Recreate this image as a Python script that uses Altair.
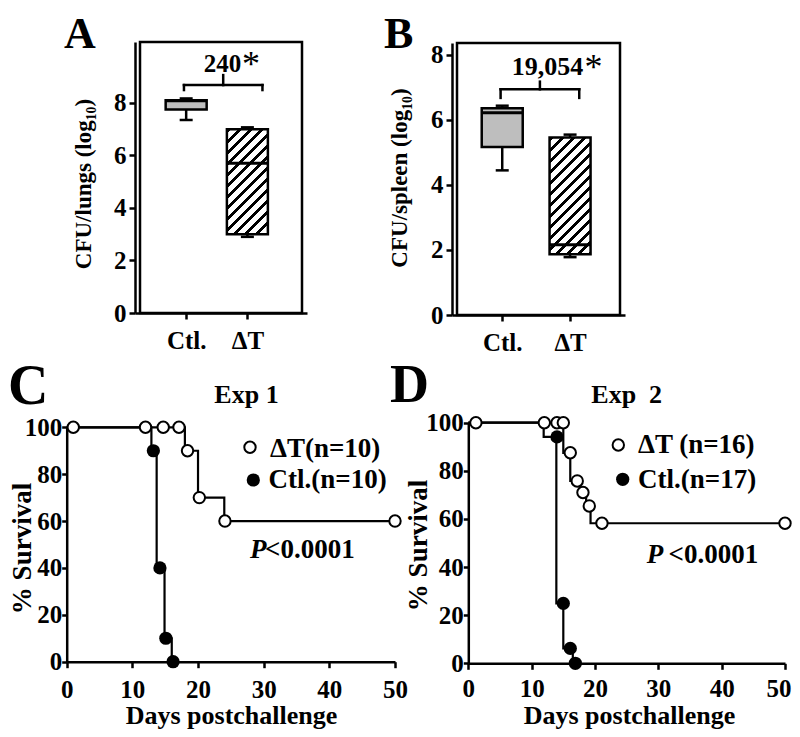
import altair as alt
import pandas as pd

FONT = "Liberation Serif"
W, H = 784, 721

# ---------------- data ----------------
groups = ["Ctl.", "ΔT"]
group_pos = [1, 2]

lung_min = [7.35, 2.90]
lung_q1 = [7.75, 3.00]
lung_median = [8.08, 5.70]
lung_q3 = [8.10, 7.00]
lung_max = [8.17, 7.07]

spleen_min = [4.45, 1.78]
spleen_q1 = [5.17, 1.87]
spleen_median = [6.22, 2.16]
spleen_q3 = [6.36, 5.46]
spleen_max = [6.44, 5.55]

box_ticks = [0, 2, 4, 6, 8]

# Exp 1 (panel C)
e1_dt_days = [1, 12, 14.7, 17.1, 18.4, 20.2, 24.1, 50]
e1_dt_surv = [100, 100, 100, 100, 90, 70, 60, 60]
e1_dt_step_days = [0, 18, 20, 24, 50]
e1_dt_step_surv = [100, 90, 70, 60, 60]
e1_ctl_days = [13.2, 14.2, 15.1, 16.2]
e1_ctl_surv = [90, 40, 10, 0]
e1_ctl_step_days = [0, 12.9, 13.7, 14.9, 16.0, 16.2]
e1_ctl_step_surv = [100, 90, 40, 10, 0, 0]

# Exp 2 (panel D)
e2_dt_days = [1.2, 12, 14, 15, 16.1, 17.2, 18.1, 19.1, 21.1, 50]
e2_dt_surv = [100, 100, 100, 100, 87.5, 75.8, 71, 65.4, 58.2, 58.2]
e2_dt_step_days = [0, 15, 16.1, 17.6, 18.6, 19.3, 50]
e2_dt_step_surv = [100, 87.5, 75.8, 71, 65.4, 58.2, 58.2]
e2_ctl_days = [14, 15, 16.1, 16.9]
e2_ctl_surv = [94.1, 24.9, 6.2, 0]
e2_ctl_step_days = [0, 11.9, 13.9, 15, 16.5, 16.9]
e2_ctl_step_surv = [100, 94.1, 24.9, 6.2, 0, 0]

day_ticks = [0, 10, 20, 30, 40, 50]
surv_ticks = [0, 20, 40, 60, 80, 100]

# fold-change brackets (data units of each panel): left, right, level, prong end, tip
lung_bracket = [0.964, 2.246, 8.68, 8.49, 9.06]
spleen_bracket = [0.976, 2.135, 6.945, 6.68, 7.18]

# ---------------- helpers ----------------
label_expr = " : ".join(
    [f"datum.value == {p} ? '{g}'" for p, g in zip(group_pos[:-1], groups[:-1])] + [f"'{groups[-1]}'"]
)


def hatch(w, h, period=7.8, black=2.8):
    s = (w + h) / (w * w + h * h)
    span = (w + h) / 2 ** 0.5
    stops = []
    i = 0
    while i * period / span < 1:
        a = i * period / span
        b = min((i * period + black) / span, 1.0)
        stops += [
            alt.GradientStop(color="white", offset=a),
            alt.GradientStop(color="black", offset=a),
            alt.GradientStop(color="black", offset=b),
            alt.GradientStop(color="white", offset=b),
        ]
        i += 1
    return alt.LinearGradient(gradient="linear", stops=stops, x1=0, y1=0, x2=w * s, y2=h * s)


def box_panel(mins, q1s, meds, q3s, maxs, xdom, xrng, ydom, yrng, ytitle, ttx, tty, bracket,
              box_w=41):
    df = pd.DataFrame({"group": groups, "pos": group_pos, "lo": mins, "q1": q1s,
                       "med": meds, "q3": q3s, "hi": maxs})
    xs = alt.Scale(domain=xdom, range=xrng, nice=False, zero=False)
    ys = alt.Scale(domain=ydom, range=yrng, nice=False, zero=False)
    ppu = (yrng[0] - yrng[1]) / (ydom[1] - ydom[0])
    base = alt.Chart(df)
    X = alt.X("pos:Q", scale=xs)

    # frame first: it carries the panel's axes
    frame_df = pd.DataFrame({"x0": [xdom[0]], "x1": [xdom[1]], "y0": [ydom[0]], "y1": [ydom[1]]})
    frame = alt.Chart(frame_df).mark_rect(fillOpacity=0, stroke="black", strokeWidth=2.5).encode(
        x=alt.X("x0:Q", scale=xs, axis=alt.Axis(
            orient="bottom", offset=yrng[0] - H, values=group_pos, labelExpr=label_expr,
            title=None, tickSize=6, labelPadding=9)),
        x2="x1:Q",
        y=alt.Y("y0:Q", scale=ys, axis=alt.Axis(
            orient="left", offset=-xrng[0], values=box_ticks, format="d", tickSize=6,
            labelPadding=3, title=ytitle, titleFontSize=23, titleAngle=270,
            titleBaseline="bottom", titleAlign="center", titleX=ttx, titleY=tty)),
        y2="y1:Q")

    whisk_hi = base.mark_rule(color="black", strokeWidth=2.5).encode(
        x=X, y=alt.Y("q3:Q", scale=ys), y2="hi:Q")
    whisk_lo = base.mark_rule(color="black", strokeWidth=2.5).encode(
        x=X, y=alt.Y("lo:Q", scale=ys), y2="q1:Q")
    caps = base.transform_fold(["lo", "hi"], as_=["k", "v"]).mark_tick(
        orient="horizontal", size=13, thickness=2.5, color="black", opacity=1).encode(
        x=X, y=alt.Y("v:Q", scale=ys))
    box_ctl = base.transform_filter(alt.datum.pos == group_pos[0]).mark_bar(
        size=box_w, fill="#bebebe", stroke="black", strokeWidth=2.5, opacity=1).encode(
        x=X, y=alt.Y("q1:Q", scale=ys), y2="q3:Q")
    h_dt = (q3s[1] - q1s[1]) * ppu
    box_dt = base.transform_filter(alt.datum.pos == group_pos[1]).mark_bar(
        size=box_w, fill=hatch(box_w, h_dt), stroke="black", strokeWidth=2.5, opacity=1).encode(
        x=X, y=alt.Y("q1:Q", scale=ys), y2="q3:Q")
    med = base.mark_tick(orient="horizontal", size=box_w, thickness=3, color="black", opacity=1).encode(
        x=X, y=alt.Y("med:Q", scale=ys))

    xl, xr, lev, prong, tip = bracket
    br_df = pd.DataFrame({
        "x": [xl, xl, xr, (xl + xr) / 2],
        "x2": [xl, xr, xr, (xl + xr) / 2],
        "y": [prong, lev, lev, lev],
        "y2": [lev, lev, prong, tip],
    })
    br = alt.Chart(br_df).mark_rule(color="black", strokeWidth=2.5, strokeCap="square").encode(
        x=alt.X("x:Q", scale=xs), x2="x2:Q",
        y=alt.Y("y:Q", scale=ys), y2="y2:Q")

    return alt.layer(frame, whisk_hi, whisk_lo, box_ctl, box_dt, med, caps, br)


def km_panel(dt_d, dt_s, dt_sd, dt_ss, c_d, c_s, c_sd, c_ss, xrng, yrng,
             ytx, yty, xtx, xty, xlabpad, flush_last=False):
    xs = alt.Scale(domain=[0, 50], range=xrng, nice=False, zero=False)
    ys = alt.Scale(domain=[0, 100], range=yrng, nice=False, zero=False)
    steps = pd.DataFrame({
        "series": ["dt"] * len(dt_sd) + ["ctl"] * len(c_sd),
        "day": dt_sd + c_sd,
        "surv": dt_ss + c_ss,
    })
    extra = {}
    if flush_last:
        test = f"datum.value == {day_ticks[-1]}"
        extra = dict(
            labelAlign={"condition": {"test": test, "value": "right"}, "value": "center"},
            labelOffset={"condition": {"test": test, "value": 6}, "value": 0},
        )
    lines = alt.Chart(steps).mark_line(interpolate="step-after", color="black", strokeWidth=2.2).encode(
        x=alt.X("day:Q", scale=xs, axis=alt.Axis(
            orient="bottom", offset=yrng[0] - H, values=day_ticks, tickSize=6,
            labelPadding=xlabpad, title="Days postchallenge", titleFontSize=26,
            titleBaseline="top", titleAlign="center", titleX=xtx, titleY=xty, **extra)),
        y=alt.Y("surv:Q", scale=ys, axis=alt.Axis(
            orient="left", offset=-xrng[0], values=surv_ticks, tickSize=5, labelPadding=0,
            title="% Survival", titleFontSize=27, titleAngle=270, titleBaseline="bottom",
            titleAlign="center", titleX=ytx, titleY=yty)),
        detail="series:N")
    open_pts = alt.Chart(pd.DataFrame({"day": dt_d, "surv": dt_s})).mark_point(
        shape="circle", size=130, filled=True, fill="white", stroke="black",
        strokeWidth=2, opacity=1).encode(
        x=alt.X("day:Q", scale=xs), y=alt.Y("surv:Q", scale=ys))
    filled_pts = alt.Chart(pd.DataFrame({"day": c_d, "surv": c_s})).mark_point(
        shape="circle", size=175, filled=True, color="black", opacity=1).encode(
        x=alt.X("day:Q", scale=xs), y=alt.Y("surv:Q", scale=ys))
    return alt.layer(lines, open_pts, filled_pts)


dummy = pd.DataFrame({"k": [0]})


def txt(t, x, y, size, align="left", weight="bold", style="normal"):
    return alt.Chart(dummy).mark_text(
        text=t, font=FONT, fontSize=size, fontWeight=weight, fontStyle=style,
        align=align, baseline="alphabetic", color="black").encode(
        x=alt.value(x), y=alt.value(y))


def sym(x, y, filled):
    if filled:
        m = alt.Chart(dummy).mark_point(shape="circle", size=175, filled=True, color="black", opacity=1)
    else:
        m = alt.Chart(dummy).mark_point(shape="circle", size=130, filled=True, fill="white",
                                        stroke="black", strokeWidth=2, opacity=1)
    return m.encode(x=alt.value(x), y=alt.value(y))


panel_a = box_panel(lung_min, lung_q1, lung_median, lung_q3, lung_max,
                    [0.246, 2.892], [127, 299], [0, 10.32], [305, 34],
                    "CFU/lungs (log₁₀)", -39.5, 175.5, lung_bracket)
panel_b = box_panel(spleen_min, spleen_q1, spleen_median, spleen_q3, spleen_max,
                    [0.3333, 2.7361], [444, 617], [0, 8.369], [307, 35],
                    "CFU/spleen (log₁₀)", -40.5, 169.5, spleen_bracket)
panel_c = km_panel(e1_dt_days, e1_dt_surv, e1_dt_step_days, e1_dt_step_surv,
                   e1_ctl_days, e1_ctl_surv, e1_ctl_step_days, e1_ctl_step_surv,
                   [58.7, 387], [653.7, 419.3], -29.7, 540, 223, 40.8, 9.5)
panel_d = km_panel(e2_dt_days, e2_dt_surv, e2_dt_step_days, e2_dt_step_surv,
                   e2_ctl_days, e2_ctl_surv, e2_ctl_step_days, e2_ctl_step_surv,
                   [460.3, 777], [655.3, 414.7], -35.9, 537, 621, 39.2, 7, flush_last=True)

annotations = [
    txt("A", 56, 39.5, 44),
    txt("B", 376, 39.5, 44),
    txt("C", 0, 396, 56),
    txt("D", 382, 394, 54),
    txt("240", 214.4, 63.7, 25, align="center"),
    txt("*", 234, 67.8, 36, weight="normal"),
    txt("19,054", 539.5, 67, 26, align="center"),
    txt("*", 576.5, 71, 36, weight="normal"),
    txt("Exp 1", 238.5, 395.3, 26, align="center"),
    txt("Exp\u00a0 2", 618.7, 395.3, 26, align="center"),
    sym(242, 439.3, False),
    sym(245.3, 472, True),
    txt("ΔT(n=10)", 262, 448.7, 27),
    txt("Ctl.(n=10)", 260.5, 480.3, 27),
    sym(610.3, 437, False),
    sym(614.7, 471.3, True),
    txt("ΔT (n=16)", 630, 445.3, 27),
    txt("Ctl.(n=17)", 630, 480.3, 27),
    txt("P", 242, 550.3, 27, style="italic"),
    txt("<0.0001", 257, 550.3, 27),
    txt("P", 638.7, 555.3, 27, style="italic"),
    txt("<0.0001", 660.5, 555.3, 27),
]

chart = alt.layer(panel_a, panel_b, panel_c, panel_d, *annotations).resolve_scale(
    x="independent", y="independent").resolve_axis(
    x="independent", y="independent").properties(
    width=W, height=H, autosize=alt.AutoSizeParams(type="none"), padding=0
).configure_view(stroke=None).configure_axis(
    domainColor="black", domainWidth=2.5, tickColor="black", tickWidth=2.5,
    labelFont=FONT, labelFontSize=25, labelFontWeight="bold", labelColor="black",
    titleFont=FONT, titleFontWeight="bold", titleColor="black",
    grid=False, labelFlush=False, labelOverlap=False)

chart.save("out.html", embed_options={"renderer": "svg", "actions": False})
